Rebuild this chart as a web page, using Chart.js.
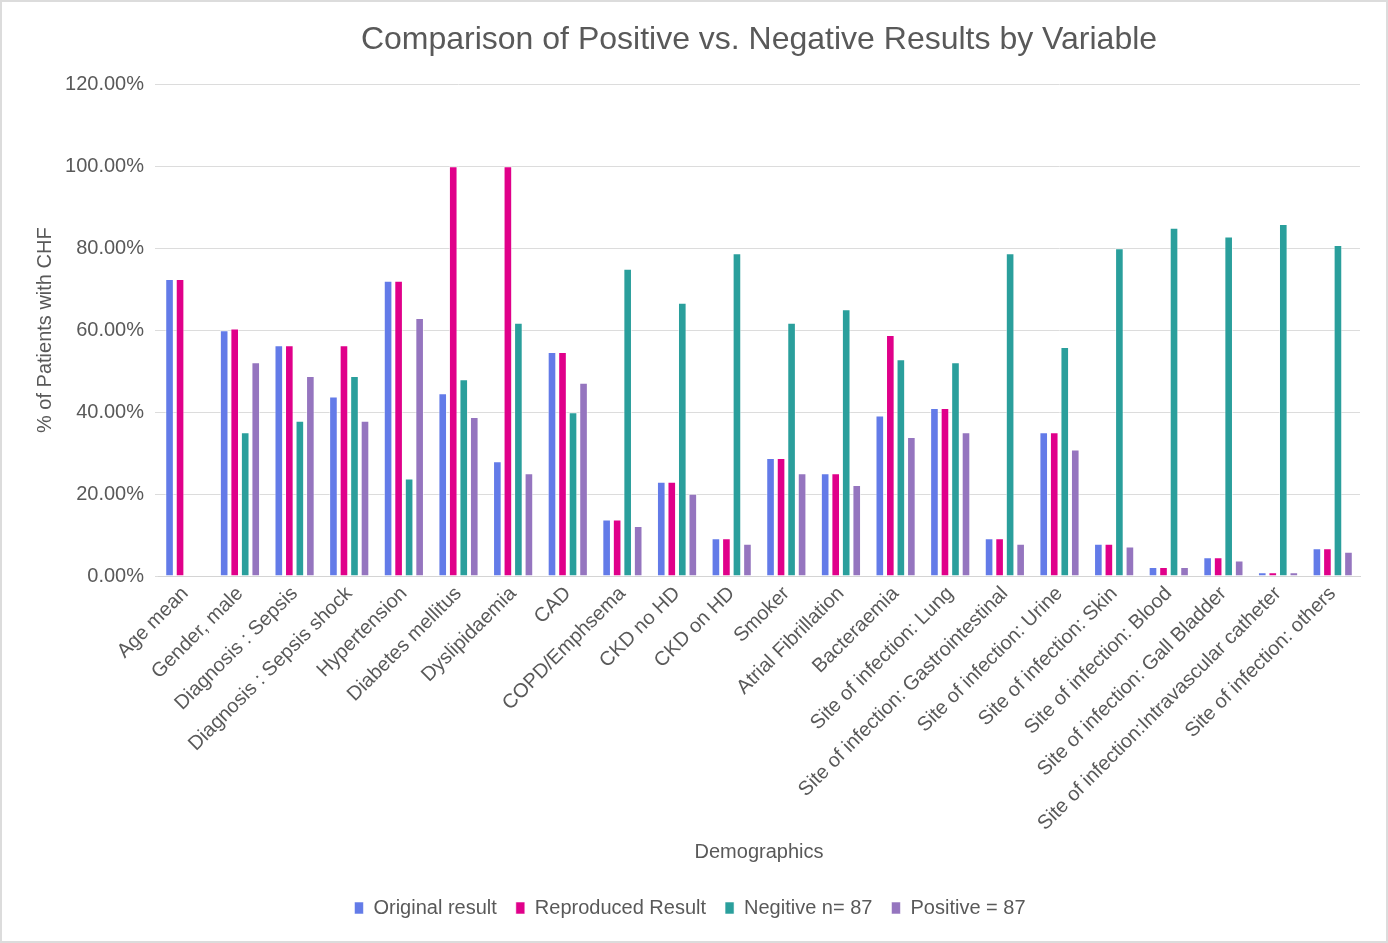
<!DOCTYPE html>
<html>
<head>
<meta charset="utf-8">
<script src="https://cdn.jsdelivr.net/npm/chart.js@4.4.1/dist/chart.umd.min.js"></script>
<style>
  html, body { margin: 0; padding: 0; background: #ffffff; }
  #wrap { position: relative; width: 1388px; height: 943px; }
</style>
</head>
<body>
<div id="wrap"><canvas id="chart"></canvas></div>
<script>
// Variables compared between the original and reproduced analyses
const categories = [
  'Age mean', 'Gender, male', 'Diagnosis : Sepsis', 'Diagnosis : Sepsis shock',
  'Hypertension', 'Diabetes mellitus', 'Dyslipidaemia', 'CAD', 'COPD/Emphsema',
  'CKD no HD', 'CKD on HD', 'Smoker', 'Atrial Fibrillation', 'Bacteraemia',
  'Site of infection: Lung', 'Site of infection: Gastrointestinal',
  'Site of infection: Urine', 'Site of infection: Skin', 'Site of infection: Blood',
  'Site of infection: Gall Bladder', 'Site of infection:Intravascular catheter',
  'Site of infection: others'
];

// Percentages of patients with CHF, per series
const originalResult   = [72.5, 60.0, 56.3, 43.8, 72.1, 44.6, 28.0, 54.7, 13.8, 23.0, 9.2, 28.8, 25.1, 39.2, 41.0, 9.2, 35.1, 7.9, 2.2, 4.6, 0.9, 6.8];
const reproducedResult = [72.5, 60.4, 56.3, 56.3, 72.1, 100.0, 100.0, 54.7, 13.8, 23.0, 9.2, 28.8, 25.1, 58.8, 41.0, 9.2, 35.1, 7.9, 2.2, 4.6, 0.9, 6.8];
const negativeN87      = [null, 35.1, 37.9, 48.8, 23.8, 48.0, 61.8, 40.0, 75.0, 66.7, 78.8, 61.8, 65.1, 52.9, 52.2, 78.8, 55.9, 80.0, 85.0, 82.9, 85.9, 80.8];
const positive87       = [null, 52.2, 48.8, 37.9, 63.0, 38.8, 25.1, 47.2, 12.2, 20.1, 7.9, 25.1, 22.2, 33.9, 35.1, 7.9, 30.9, 7.2, 2.2, 3.8, 0.9, 5.9];

const seriesLabels = ['Original result', 'Reproduced Result', 'Negitive n= 87', 'Positive = 87'];
const seriesColors = ['#637be8', '#e0008a', '#2a9f9c', '#9575bf'];

// Y axis range and ticks (percent)
const yMin = 0, yMax = 120, yStep = 20;

const textColor = '#595959';
const fontFamily = '"Liberation Sans", Arial, Helvetica, sans-serif';

const seriesData = [originalResult, reproducedResult, negativeN87, positive87];

const frameBorder = {
  id: 'frameBorder',
  afterDraw(chart) {
    const ctx = chart.ctx;
    ctx.save();
    ctx.strokeStyle = '#dcdcdc';
    ctx.lineWidth = 2;
    ctx.strokeRect(1, 1, chart.width - 2, chart.height - 2);
    ctx.restore();
  }
};

new Chart(document.getElementById('chart'), {
  type: 'bar',
  data: {
    labels: categories,
    datasets: seriesData.map((d, i) => ({
      label: seriesLabels[i],
      data: d,
      backgroundColor: seriesColors[i],
      borderColor: 'rgba(255,255,255,0.55)',
      borderWidth: 1,
      categoryPercentage: 0.77,
      barPercentage: 0.82
    }))
  },
  options: {
    responsive: true,
    maintainAspectRatio: false,
    animation: false,
    devicePixelRatio: 1,
    layout: { padding: { top: 2, left: 20, right: 28, bottom: 15 } },
    plugins: {
      title: {
        display: true,
        text: 'Comparison of Positive vs. Negative Results by Variable',
        color: textColor,
        fullSize: false,
        font: { family: fontFamily, size: 32, weight: 'normal' },
        padding: { top: 19, bottom: 25 }
      },
      legend: {
        position: 'bottom',
        labels: {
          color: textColor,
          font: { family: fontFamily, size: 20 },
          boxWidth: 9,
          boxHeight: 12,
          padding: 19
        }
      },
      tooltip: { enabled: false }
    },
    scales: {
      x: {
        grid: { display: false, drawTicks: false },
        border: { display: true, color: '#d4d4d4', width: 1 },
        ticks: {
          color: textColor,
          font: { family: fontFamily, size: 20 },
          minRotation: 45,
          maxRotation: 45,
          autoSkip: false,
          padding: 6
        },
        title: {
          display: true,
          text: 'Demographics',
          color: textColor,
          font: { family: fontFamily, size: 20 },
          padding: { top: 4, bottom: 15 }
        },
        afterFit(scale) { scale.height = 303; }
      },
      y: {
        min: yMin,
        max: yMax,
        grid: { color: '#dcdcdc', lineWidth: 1, tickLength: 3, drawTicks: true },
        border: { display: false },
        ticks: {
          stepSize: yStep,
          color: textColor,
          font: { family: fontFamily, size: 20 },
          padding: 11,
          callback: v => v.toFixed(2) + '%'
        },
        title: {
          display: true,
          text: '% of Patients with CHF',
          color: textColor,
          font: { family: fontFamily, size: 20 },
          padding: { top: 13, bottom: 4 }
        },
        afterFit(scale) { scale.width = 138; }
      }
    }
  },
  plugins: [frameBorder]
});
</script>
</body>
</html>
